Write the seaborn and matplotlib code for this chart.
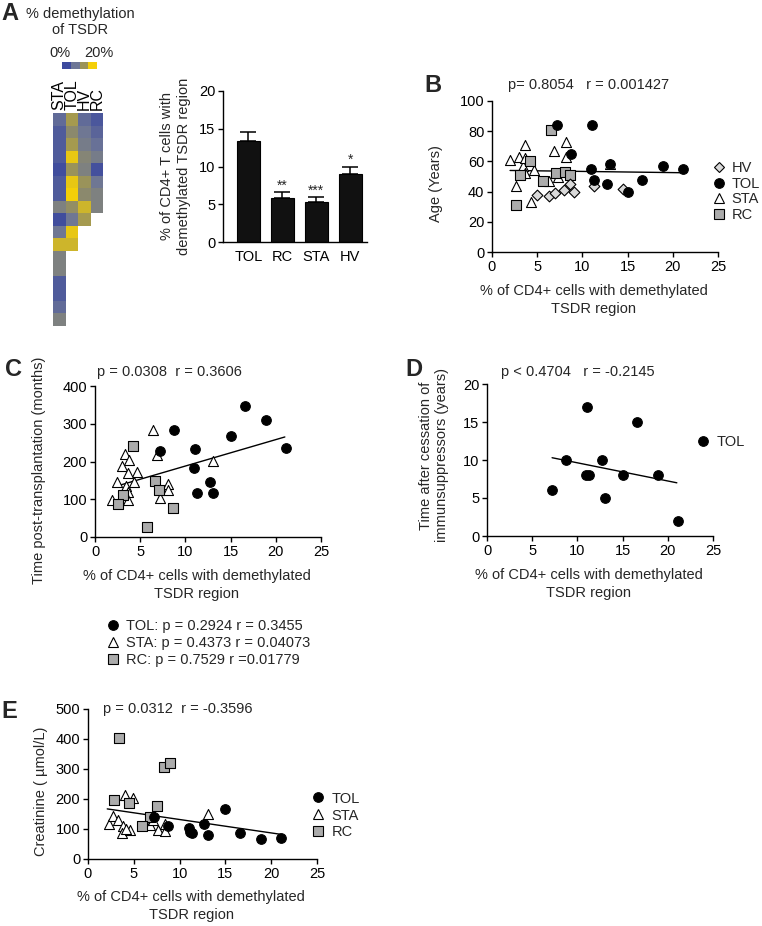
import numpy as np
import pandas as pd
import seaborn as sns
import matplotlib.pyplot as plt
from matplotlib.colors import LinearSegmentedColormap, ListedColormap
from matplotlib.lines import Line2D

# ---- A: heatmap, % demethylation of TSDR per patient
hm_sta = [5, 2.5, 2.5, 2.5, 0.5, 2.5, 2.5, 9, 0.5, 7, 17, 9, 9, 2.5, 2.5, 5, 9]
hm_tol = [14, 11, 14, 19, 13, 19, 20, 12, 7, 19, 17]
hm_hv = [5, 7, 8, 10, 9, 13, 11, 17, 14]
hm_rc = [2, 4, 6, 8, 1, 7, 9, 9]
hm_colors = ['#3d4a9e', '#6d7696', '#9c9457', '#f4cf08']

# ---- A: bar chart
bar_groups = ['TOL', 'RC', 'STA', 'HV']
bar_means = [13.35, 5.85, 5.25, 9.05]
bar_sems = [1.25, 0.75, 0.7, 0.95]
bar_stars = ['', '**', '***', '*']

# ---- per-group x values (% CD4+ with demethylated TSDR)
tol_x = [7.2, 8.7, 11.0, 11.1, 11.3, 12.7, 13.1, 15.0, 16.6, 18.9, 21.1]

# B: age
hv_x_b = [5.0, 6.3, 7.0, 8.0, 8.6, 9.1, 11.3, 14.5]
hv_age = [38, 37, 39, 41, 45, 40, 44, 42]
tol_age = [84, 65, 55, 84, 48, 45, 58, 40, 48, 57, 55]
sta_x_b = [2.0, 3.0, 3.7, 3.4, 2.6, 3.7, 4.7, 4.3, 6.3, 6.9, 8.2, 8.2, 7.3, 13.0, 3.6]
sta_age = [61, 63, 71, 57, 44, 52, 54, 33, 47, 67, 73, 63, 50, 58, 62]
rc_x_b = [6.5, 4.2, 3.1, 5.6, 7.1, 8.1, 8.6, 2.6]
rc_age = [81, 60, 51, 47, 52, 53, 51, 31]
fit_b_x = [2.0, 21.0]
fit_b_y = [54.0, 52.5]

# C: time post-transplantation (months)
tol_months = [227, 283, 184, 232, 116, 146, 116, 267, 347, 309, 235]
sta_x_c = [6.4, 6.9, 3.3, 3.8, 2.95, 4.6, 3.7, 2.4, 4.3, 3.4, 3.7, 1.85, 3.7, 8.1, 8.1, 7.2, 13.0]
sta_months = [283, 217, 221, 205, 188, 173, 170, 146, 146, 135, 120, 98, 98, 140, 124, 102, 201]
rc_x_c = [4.2, 6.6, 7.1, 3.1, 2.5, 8.6, 5.7]
rc_months = [242, 149, 124, 111, 87, 76, 27]
fit_c_x = [2.0, 21.0]
fit_c_y = [132, 265]

# D: time after cessation of immunosuppressors (years)
tol_years = [6, 10, 8, 17, 8, 10, 5, 8, 15, 8, 2]
fit_d_x = [7.2, 21.0]
fit_d_y = [10.3, 7.0]

# E: creatinine
tol_creat = [140, 110, 105, 90, 88, 117, 80, 167, 86, 67, 70]
sta_x_e = [2.3, 2.7, 3.3, 3.8, 3.7, 4.6, 4.0, 4.9, 6.8, 7.1, 7.6, 8.4, 8.4, 13.1, 4.2]
sta_creat = [117, 143, 130, 110, 88, 97, 215, 205, 113, 130, 97, 118, 92, 150, 100]
rc_x_e = [3.4, 8.3, 8.9, 2.8, 4.5, 7.5, 6.8, 5.9]
rc_creat = [403, 308, 320, 198, 188, 177, 141, 111]
fit_e_x = [2.1, 21.1]
fit_e_y = [167, 82]

xlab = '% of CD4+ cells with demethylated\nTSDR region'

sns.set_style('ticks')
plt.rcParams['font.family'] = ['Liberation Sans', 'DejaVu Sans']
plt.rcParams['font.size'] = 10.5
plt.rcParams['axes.linewidth'] = 1.0
plt.rcParams['xtick.major.width'] = 1.0
plt.rcParams['ytick.major.width'] = 1.0
plt.rcParams['xtick.major.size'] = 3.5
plt.rcParams['ytick.major.size'] = 3.5
plt.rcParams['xtick.color'] = 'black'
plt.rcParams['ytick.color'] = 'black'
plt.rcParams['axes.edgecolor'] = 'black'

W, H = 762, 926
fig = plt.figure(figsize=(W / 100, H / 100), dpi=100)


def px_axes(l, t, r, b):
    return fig.add_axes([l / W, 1 - b / H, (r - l) / W, (b - t) / H])


STYLE = {
    'TOL': dict(marker='o', color='black', edgecolor='black', s=48),
    'STA': dict(marker='^', color='white', edgecolor='black', s=52),
    'RC': dict(marker='s', color='#ababab', edgecolor='black', s=42),
    'HV': dict(marker='D', color='#d9d9d9', edgecolor='black', s=30),
}


def handle(g):
    st = STYLE[g]
    return Line2D([], [], ls='none', marker=st['marker'], markerfacecolor=st['color'],
                  markeredgecolor='black', markersize=np.sqrt(st['s']), markeredgewidth=0.8)


def scatter(ax, x, y, g):
    sns.scatterplot(x=x, y=y, ax=ax, linewidth=0.8, legend=False, clip_on=False,
                    zorder=3, **STYLE[g])


def style_scatter_ax(ax, ymax, ystep, ylabel, ylab_x, ylab_y):
    ax.set_xlim(0, 25)
    ax.set_ylim(0, ymax)
    ax.set_xticks(range(0, 26, 5))
    ax.set_yticks(np.arange(0, ymax + 1, ystep))
    sns.despine(ax=ax)
    ax.set_ylabel(ylabel)
    ax.set_xlabel(xlab, linespacing=1.35)
    ax.yaxis.set_label_coords(ylab_x, ylab_y)
    ax.xaxis.set_label_coords(0.45, -0.21)
    ax.tick_params(labelsize=10.5, pad=2)


# ================= A heatmap
hm = pd.DataFrame({'STA': pd.Series(hm_sta), 'TOL': pd.Series(hm_tol),
                   'HV': pd.Series(hm_hv), 'RC': pd.Series(hm_rc)})
cmap = LinearSegmentedColormap.from_list('tsdr', hm_colors)
ax_hm = px_axes(53, 113, 103, 326)
sns.heatmap(hm, ax=ax_hm, cmap=cmap, vmin=0, vmax=20, cbar=False,
            xticklabels=True, yticklabels=False)
ax_hm.xaxis.tick_top()
ax_hm.tick_params(axis='x', length=0, pad=2, labelsize=11.5, rotation=90)

ax_cb = px_axes(62, 62, 97, 69)
sns.heatmap([[0, 1, 2, 3]], ax=ax_cb, cmap=ListedColormap(hm_colors), cbar=False,
            xticklabels=False, yticklabels=False)
fig.text(60 / W, 1 - 53 / H, '0%', ha='center', va='center', fontsize=10.5)
fig.text(99 / W, 1 - 53 / H, '20%', ha='center', va='center', fontsize=10.5)
fig.text(80 / W, 1 - 22 / H, '% demethylation\nof TSDR', ha='center', va='center',
         fontsize=10.5, linespacing=1.2)

# ================= A bar chart
ax_bar = px_axes(223, 91, 367, 242)
sns.barplot(x=bar_groups, y=bar_means, ax=ax_bar, color='#111111', saturation=1,
            width=0.68, edgecolor='black', linewidth=0.8)
ax_bar.errorbar(range(len(bar_groups)), bar_means, yerr=[np.zeros(4), bar_sems],
                fmt='none', ecolor='black', elinewidth=1.1, capsize=5.5, capthick=1.1)
for i, s in enumerate(bar_stars):
    if s:
        ax_bar.text(i, bar_means[i] + bar_sems[i] + 0.9, s, ha='center', va='center',
                    fontsize=10)
ax_bar.set_xlim(-0.75, 3.5)
ax_bar.set_ylim(0, 20)
ax_bar.set_yticks([0, 5, 10, 15, 20])
sns.despine(ax=ax_bar)
ax_bar.tick_params(axis='x', length=0, pad=6, labelsize=10.5)
ax_bar.tick_params(axis='y', labelsize=10.5, pad=2)
ax_bar.set_ylabel('% of CD4+ T cells with\ndemethylated TSDR region')
ax_bar.yaxis.set_label_coords(-0.225, 0.5)

# ================= B
ax_b = px_axes(492, 101, 718, 252)
sns.lineplot(x=fit_b_x, y=fit_b_y, ax=ax_b, color='black', lw=1.0, zorder=2)
scatter(ax_b, sta_x_b, sta_age, 'STA')
scatter(ax_b, rc_x_b, rc_age, 'RC')
scatter(ax_b, hv_x_b, hv_age, 'HV')
scatter(ax_b, tol_x, tol_age, 'TOL')
style_scatter_ax(ax_b, 100, 20, 'Age (Years)', -0.217, 0.45)
ax_b.text(0.07, 1.105, 'p= 0.8054   r = 0.001427', transform=ax_b.transAxes,
          ha='left', va='center', fontsize=10.5)
ax_b.legend([handle(g) for g in ['HV', 'TOL', 'STA', 'RC']], ['HV', 'TOL', 'STA', 'RC'],
            loc='center left', bbox_to_anchor=(0.97, 0.40), frameon=False,
            handlelength=1.0, handletextpad=0.4, labelspacing=0.1, borderpad=0,
            borderaxespad=0, fontsize=10.5)

# ================= C
ax_c = px_axes(95, 386, 321, 537)
sns.lineplot(x=fit_c_x, y=fit_c_y, ax=ax_c, color='black', lw=1.0, zorder=2)
scatter(ax_c, sta_x_c, sta_months, 'STA')
scatter(ax_c, rc_x_c, rc_months, 'RC')
scatter(ax_c, tol_x, tol_months, 'TOL')
style_scatter_ax(ax_c, 400, 100, 'Time post-transplantation (months)', -0.217, 0.44)
ax_c.text(0.01, 1.09, 'p = 0.0308  r = 0.3606', transform=ax_c.transAxes,
          ha='left', va='center', fontsize=10.5)
fig.legend([handle(g) for g in ['TOL', 'STA', 'RC']],
           ['TOL: p = 0.2924 r = 0.3455', 'STA: p = 0.4373 r = 0.04073',
            'RC: p = 0.7529 r =0.01779'],
           loc='center left', bbox_to_anchor=(106 / W, 1 - 643 / H), frameon=False,
           handlelength=1.0, handletextpad=0.4, labelspacing=0.2, borderpad=0,
           borderaxespad=0, fontsize=10.5)

# ================= D
ax_d = px_axes(487, 384, 713, 536)
sns.lineplot(x=fit_d_x, y=fit_d_y, ax=ax_d, color='black', lw=1.0, zorder=2)
scatter(ax_d, tol_x, tol_years, 'TOL')
style_scatter_ax(ax_d, 20, 5, 'Time after cessation of\nimmunsuppressors (years)',
                 -0.168, 0.53)
ax_d.text(0.06, 1.08, 'p < 0.4704   r = -0.2145', transform=ax_d.transAxes,
          ha='left', va='center', fontsize=10.5)
ax_d.legend([handle('TOL')], ['TOL'], loc='center left', bbox_to_anchor=(0.925, 0.62),
            frameon=False, handlelength=1.0, handletextpad=0.4, borderpad=0,
            borderaxespad=0, fontsize=10.5)

# ================= E
ax_e = px_axes(88, 709, 317, 859)
sns.lineplot(x=fit_e_x, y=fit_e_y, ax=ax_e, color='black', lw=1.0, zorder=2)
scatter(ax_e, sta_x_e, sta_creat, 'STA')
scatter(ax_e, rc_x_e, rc_creat, 'RC')
scatter(ax_e, tol_x, tol_creat, 'TOL')
style_scatter_ax(ax_e, 500, 100, 'Creatinine ( µmol/L)', -0.175, 0.45)
ax_e.text(0.066, 1.0, 'p = 0.0312  r = -0.3596', transform=ax_e.transAxes,
          ha='left', va='center', fontsize=10.5)
ax_e.legend([handle(g) for g in ['TOL', 'STA', 'RC']], ['TOL', 'STA', 'RC'],
            loc='center left', bbox_to_anchor=(0.974, 0.29), frameon=False,
            handlelength=1.0, handletextpad=0.4, labelspacing=0.2, borderpad=0,
            borderaxespad=0, fontsize=10.5)

# panel letters
for letter, x, y in [('A', 10, 14), ('B', 433, 85), ('C', 14, 370), ('D', 414, 370),
                     ('E', 9, 712)]:
    fig.text(x / W, 1 - y / H, letter, ha='center', va='center', fontsize=17,
             fontweight='bold')

fig.savefig('out.png', dpi=100)
